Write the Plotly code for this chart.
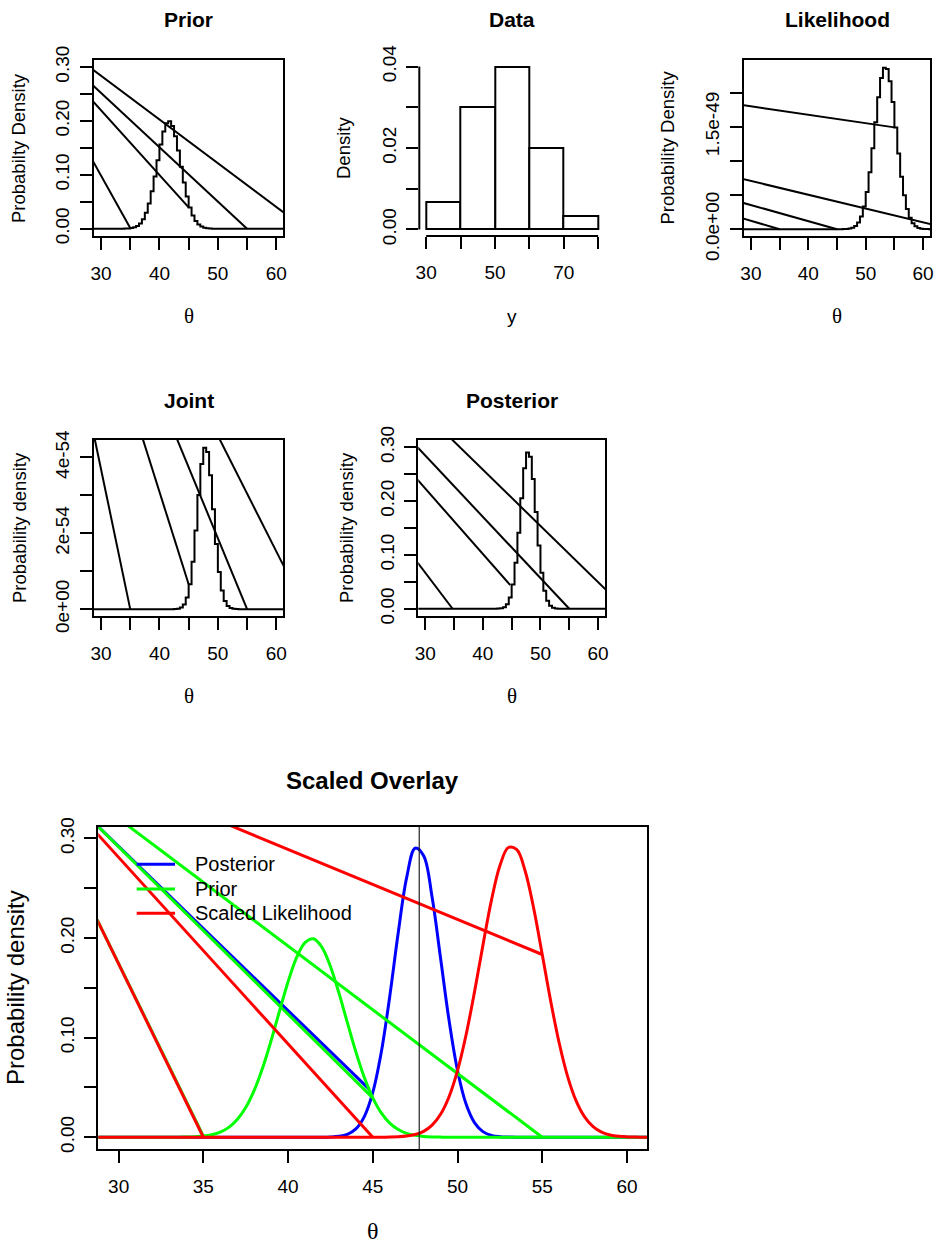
import plotly.graph_objects as go

W, H = 934, 1245

# ---------------- data ----------------
theta_grid = [28 + 0.5 * i for i in range(69)]  # 28.0 ... 62.0

prior_density = [0.0] * 11 + [
    0.00008, 0.00021, 0.00052, 0.00119, 0.00257, 0.00521, 0.00992, 0.01774,
    0.0298, 0.04702, 0.06973, 0.09711, 0.1270, 0.1561, 0.1803, 0.1955,
    0.1993, 0.1907, 0.1715, 0.1449, 0.1150, 0.0857, 0.0600, 0.0395,
    0.0244, 0.01416, 0.00773, 0.00396, 0.00191, 0.00086, 0.00037, 0.00015] + [0.0] * 26

posterior_density = [0.0] * 29 + [
    0.00025, 0.00092, 0.00297, 0.00839, 0.02077, 0.04497, 0.08527, 0.1414,
    0.2053, 0.2609, 0.2902, 0.2826, 0.2409, 0.1797, 0.1174, 0.06707,
    0.03355, 0.01469, 0.00563, 0.00189, 0.00055, 0.00014] + [0.0] * 18

joint_density_e54 = [0.0] * 29 + [
    0.0037, 0.0135, 0.0435, 0.123, 0.3045, 0.659, 1.250, 2.073,
    3.010, 3.825, 4.254, 4.143, 3.532, 2.634, 1.721, 0.983,
    0.492, 0.215, 0.0825, 0.0277, 0.0081, 0.0021] + [0.0] * 18

likelihood_e49 = [0.0] * 36 + [
    0.0014, 0.0037, 0.0093, 0.0220, 0.0483, 0.0986, 0.1872, 0.3308,
    0.5436, 0.8321, 1.184, 1.568, 1.932, 2.216, 2.364, 2.347,
    2.168, 1.864, 1.491, 1.110, 0.7686, 0.4951, 0.2968, 0.1657,
    0.0859, 0.0415, 0.0187, 0.0078, 0.0030, 0.0011, 0.0004, 0.0001] + [0.0]

scaled_likelihood = [0.0] * 36 + [
    0.00017, 0.00045, 0.00115, 0.00271, 0.00595, 0.01213, 0.02304, 0.0407,
    0.0669, 0.1024, 0.1457, 0.1929, 0.2378, 0.2726, 0.2909, 0.2888,
    0.2668, 0.2294, 0.1835, 0.1365, 0.0946, 0.0609, 0.0365, 0.0204,
    0.01057, 0.00511, 0.0023, 0.00096, 0.00037, 0.00013, 0.00005, 0.00001] + [0.0]

# histogram of y (density scale)
y_bin_lower = [30, 40, 50, 60, 70]
y_bin_density = [0.00667, 0.03, 0.04, 0.02, 0.00333]
y_bin_width = 10

posterior_mean = 47.74

# stray connecting segments visible in each panel (start x, start y, end x, end y)
prior_stray_x0 = [13.7, 13.7, 13.7, 13.7]
prior_stray_y0 = [0.416, 0.416, 0.416, 0.416]
prior_stray_x1 = [35, 45, 55, 65]
prior_stray_y1 = [0.00119, 0.0395, 0.0, 0.0]

lik_stray_x0 = [28, 28, 28, 28]
lik_stray_y0 = [0.1715, 0.401, 0.747, 1.824]
lik_stray_x1 = [35, 45, 65, 55]
lik_stray_y1 = [0.0, 0.0, 0.0, 1.491]

joint_stray_x0 = [28.23, 36.1, 41.63, 48.6]
joint_stray_y0 = [5.0, 5.0, 5.0, 5.0]
joint_stray_x1 = [35, 45, 55, 65]
joint_stray_y1 = [0.0, 0.659, 0.0, 0.0]

post_stray_x0 = [28, 28, 28, 34]
post_stray_y0 = [0.0954, 0.2478, 0.3075, 0.3212]
post_stray_x1 = [34.75, 44.75, 55, 64.71]
post_stray_y1 = [0.0, 0.044, 0.0, 0.0]

ov_blue_x0, ov_blue_y0, ov_blue_x1, ov_blue_y1 = [28], [0.325], [44.8], [0.048]
ov_green_x0 = [28, 28, 30]
ov_green_y0 = [0.2437, 0.3252, 0.3199]
ov_green_x1 = [35, 45, 55]
ov_green_y1 = [0.0012, 0.0395, 0.0]
ov_red_x0 = [28, 28, 35]
ov_red_y0 = [0.2437, 0.3185, 0.3242]
ov_red_x1 = [35, 45, 55]
ov_red_y1 = [0.0, 0.0, 0.1835]

# tick values / labels
theta_ticks = [30, 35, 40, 45, 50, 55, 60]
theta_small_labels = ["30", "", "40", "", "50", "", "60"]
theta_big_labels = ["30", "35", "40", "45", "50", "55", "60"]
dens_ticks = [0.0, 0.05, 0.10, 0.15, 0.20, 0.25, 0.30]
dens_labels = ["0.00", "", "0.10", "", "0.20", "", "0.30"]
data_x_ticks = [30, 40, 50, 60, 70, 80]
data_x_labels = ["30", "", "50", "", "70", ""]
data_y_ticks = [0.0, 0.01, 0.02, 0.03, 0.04]
data_y_labels = ["0.00", "", "0.02", "", "0.04"]
lik_ticks = [0.0, 0.5, 1.0, 1.5, 2.0]
lik_labels = ["0.0e+00", "", "", "1.5e-49", ""]
joint_ticks = [0, 1, 2, 3, 4]
joint_labels = ["0e+00", "", "2e-54", "", "4e-54"]

legend_labels = ["Posterior", "Prior", "Scaled Likelihood"]
legend_colors = ["#0000FF", "#00FF00", "#FF0000"]

# ---------------- helpers ----------------
SANS = "Liberation Sans, Arial, sans-serif"
SERIF = "Liberation Serif, Times New Roman, serif"


def xdom(l, r):
    return [l / W, r / W]


def ydom(t, b):
    return [1 - b / H, 1 - t / H]


def segs(x0, y0, x1, y1):
    xs, ys = [], []
    for a, b, c, d in zip(x0, y0, x1, y1):
        xs += [a, c, None]
        ys += [b, d, None]
    return xs, ys


fig = go.Figure()

BLACK = "#000000"


def add_line(x, y, xa, ya, color=BLACK, width=2, shape="linear"):
    fig.add_trace(go.Scatter(x=x, y=y, mode="lines", xaxis=xa, yaxis=ya,
                             line=dict(color=color, width=width, shape=shape),
                             showlegend=False, hoverinfo="skip"))


# Panel 1: Prior
add_line(theta_grid, prior_density, "x", "y", shape="hv")
add_line(*segs(prior_stray_x0, prior_stray_y0, prior_stray_x1, prior_stray_y1), "x", "y")

# Panel 2: Data histogram
fig.add_trace(go.Bar(x=[b + y_bin_width / 2 for b in y_bin_lower], y=y_bin_density,
                     width=y_bin_width, xaxis="x2", yaxis="y2",
                     marker=dict(color="white", line=dict(color=BLACK, width=2)),
                     showlegend=False, hoverinfo="skip"))

# Panel 3: Likelihood
add_line(theta_grid, likelihood_e49, "x3", "y3", shape="hv")
add_line(*segs(lik_stray_x0, lik_stray_y0, lik_stray_x1, lik_stray_y1), "x3", "y3")

# Panel 4: Joint
add_line(theta_grid, joint_density_e54, "x4", "y4", shape="hv")
add_line(*segs(joint_stray_x0, joint_stray_y0, joint_stray_x1, joint_stray_y1), "x4", "y4")

# Panel 5: Posterior
add_line(theta_grid, posterior_density, "x5", "y5", shape="hv")
add_line(*segs(post_stray_x0, post_stray_y0, post_stray_x1, post_stray_y1), "x5", "y5")

# Panel 6: Scaled overlay
add_line(theta_grid, posterior_density, "x6", "y6", color="#0000FF", width=3, shape="spline")
add_line(*segs(ov_blue_x0, ov_blue_y0, ov_blue_x1, ov_blue_y1), "x6", "y6", color="#0000FF", width=3)
add_line(theta_grid, prior_density, "x6", "y6", color="#00FF00", width=3, shape="spline")
add_line(*segs(ov_green_x0, ov_green_y0, ov_green_x1, ov_green_y1), "x6", "y6", color="#00FF00", width=3)
add_line(theta_grid, scaled_likelihood, "x6", "y6", color="#FF0000", width=3, shape="spline")
add_line(*segs(ov_red_x0, ov_red_y0, ov_red_x1, ov_red_y1), "x6", "y6", color="#FF0000", width=3)

# ---------------- axes ----------------
tickfont = dict(family=SANS, size=19, color=BLACK)


def xaxis_cfg(dom, rng, tv, tt, box=True, standoff=7):
    return dict(domain=dom, range=rng, tickvals=tv, ticktext=tt, ticks="outside",
                ticklen=12, tickwidth=1.5, tickcolor=BLACK, showline=box, mirror=box,
                linecolor=BLACK, linewidth=2, showgrid=False, zeroline=False,
                tickfont=tickfont, ticklabelstandoff=standoff, fixedrange=True,
                automargin=False)


def yaxis_cfg(dom, rng, tv, tt, box=True, standoff=3):
    return dict(domain=dom, range=rng, tickvals=tv, ticktext=tt, ticks="outside",
                ticklen=12, tickwidth=1.5, tickcolor=BLACK, showline=box, mirror=box,
                linecolor=BLACK, linewidth=2, showgrid=False, zeroline=False,
                tickangle=-90, tickfont=tickfont, ticklabelstandoff=standoff, fixedrange=True,
                automargin=False)


TH_RANGE = [28.8, 61.2]
layout = dict(
    width=W, height=H, autosize=False,
    margin=dict(l=0, r=0, t=0, b=0, pad=0, autoexpand=False),
    paper_bgcolor="white", plot_bgcolor="white",
    showlegend=False, bargap=0,
    xaxis=xaxis_cfg(xdom(94, 283.3), TH_RANGE, theta_ticks, theta_small_labels),
    yaxis=yaxis_cfg(ydom(60, 236), [-0.0135, 0.313], dens_ticks, dens_labels),
    xaxis2=xaxis_cfg(xdom(419.3, 605), [28, 82], data_x_ticks, data_x_labels, box=False),
    yaxis2=yaxis_cfg(ydom(60, 236), [-0.0016, 0.0416], data_y_ticks, data_y_labels, box=False),
    xaxis3=xaxis_cfg(xdom(744, 930), TH_RANGE, theta_ticks, theta_small_labels),
    yaxis3=yaxis_cfg(ydom(60, 236), [-0.1, 2.478], lik_ticks, lik_labels),
    xaxis4=xaxis_cfg(xdom(94, 283.3), TH_RANGE, theta_ticks, theta_small_labels),
    yaxis4=yaxis_cfg(ydom(440, 616), [-0.18, 4.46], joint_ticks, joint_labels),
    xaxis5=xaxis_cfg(xdom(418.3, 605), TH_RANGE, theta_ticks, theta_small_labels),
    yaxis5=yaxis_cfg(ydom(440, 616), [-0.0135, 0.3135], dens_ticks, dens_labels),
    xaxis6=xaxis_cfg(xdom(98.3, 647.3), TH_RANGE, theta_ticks, theta_big_labels),
    yaxis6=yaxis_cfg(ydom(826.7, 1149.3), [-0.0121, 0.3118], dens_ticks, dens_labels),
)
for i in range(1, 7):
    sfx = "" if i == 1 else str(i)
    layout["xaxis" + sfx]["anchor"] = "y" + sfx
    layout["yaxis" + sfx]["anchor"] = "x" + sfx
fig.update_layout(**layout)

# data-panel axis lines (span only the tick range)
fig.add_shape(type="line", xref="x2", yref="y2 domain", x0=data_x_ticks[0], x1=data_x_ticks[-1],
              y0=0, y1=0, line=dict(color=BLACK, width=2))
fig.add_shape(type="line", xref="x2 domain", yref="y2", x0=0, x1=0,
              y0=data_y_ticks[0], y1=data_y_ticks[-1], line=dict(color=BLACK, width=2))

# posterior mean marker line in overlay
fig.add_shape(type="line", xref="x6", yref="y6 domain", x0=posterior_mean, x1=posterior_mean,
              y0=0, y1=1, line=dict(color="#222222", width=1.2))

# ---------------- text ----------------
ann = []


def text(x, y, s, size, family=SANS, bold=False, angle=0):
    ann.append(dict(x=x / W, y=1 - y / H, xref="paper", yref="paper", text=("<b>%s</b>" % s) if bold else s,
                    showarrow=False, textangle=angle, xanchor="center", yanchor="middle",
                    font=dict(family=family, size=size, color=BLACK)))


# titles
text(188.6, 20, "Prior", 21, bold=True)
text(512, 20, "Data", 21, bold=True)
text(837, 20, "Likelihood", 21, bold=True)
text(188.6, 400, "Joint", 21, bold=True)
text(511.6, 400, "Posterior", 21, bold=True)
text(372.8, 780, "Scaled Overlay", 24, bold=True)

# x labels
text(188.6, 316, "θ", 21, family=SERIF)
text(512, 316, "y", 19)
text(837, 316, "θ", 21, family=SERIF)
text(188.6, 696, "θ", 21, family=SERIF)
text(511.6, 696, "θ", 21, family=SERIF)
text(372.8, 1231, "θ", 24, family=SERIF)

# y labels
text(19, 148, "Probabilty Density", 18.5, angle=-90)
text(344, 148, "Density", 18.5, angle=-90)
text(667.5, 148, "Probability Density", 18.5, angle=-90)
text(19, 528, "Probability density", 18.5, angle=-90)
text(346, 528, "Probability density", 18.5, angle=-90)
text(15, 988, "Probability density", 24, angle=-90)

# manual legend (no frame)
legend_rows_y = [864.3, 889, 913.3]
for lab, col, yy in zip(legend_labels, legend_colors, legend_rows_y):
    fig.add_shape(type="line", xref="paper", yref="paper", x0=136.7 / W, x1=175 / W,
                  y0=1 - yy / H, y1=1 - yy / H, line=dict(color=col, width=3))
    ann.append(dict(x=192.7 / W, y=1 - yy / H, xref="paper", yref="paper", text=lab,
                    showarrow=False, xanchor="left", yanchor="middle",
                    font=dict(family=SANS, size=20, color=BLACK)))

fig.update_layout(annotations=ann)

fig.write_html("out.html", config={"displayModeBar": False},
               post_script="document.body.style.margin='0';")
